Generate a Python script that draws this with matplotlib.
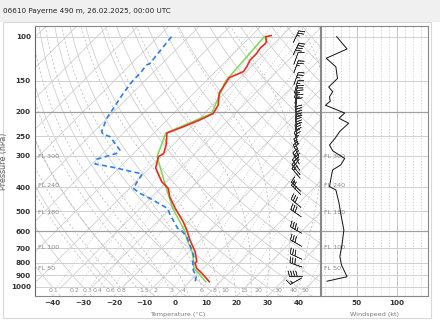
import matplotlib
matplotlib.use("Agg")
import matplotlib.pyplot as plt
import matplotlib.transforms as mtransforms
from matplotlib.patches import Rectangle
import numpy as np

title = "06610 Payerne 490 m, 26.02.2025, 00:00 UTC"

# temperature sounding (hPa, degC)
temp_p = [99, 100, 105, 107, 111, 117, 124, 132, 138, 146, 151, 168, 188, 203,
          215, 229, 243, 271, 293, 302, 335, 380, 404, 437, 484, 550, 593, 650,
          724, 794, 802, 844, 883, 955]
temp_t = [-53.6, -55.0, -53.1, -52.9, -53.1, -52.5, -52.5, -51.4, -50.9, -53.6,
          -53.1, -51.8, -48.2, -47.1, -49.3, -52.5, -55.8, -52.2, -50.2, -50.9,
          -48.1, -41.7, -37.4, -34.1, -28.8, -21.6, -17.8, -13.5, -8.0, -4.2,
          -4.4, -2.1, 1.2, 6.4]

# second (green) trace, slightly cooler near the ground
green_p = [100, 151, 203, 243, 302, 404, 484, 593, 650, 724, 794, 844, 883, 955]
green_t = [-55.5, -53.6, -47.6, -56.2, -51.3, -38.0, -29.6, -18.6, -14.4, -9.0,
           -5.2, -3.0, 0.2, 5.2]

# dew point sounding (hPa, degC)
dew_p = [100, 128, 130, 140, 149, 168, 193, 212, 240, 246, 251, 279, 284, 293,
         309, 323, 331, 354, 404, 423, 443, 486, 516, 584, 597, 631, 713, 770,
         794, 858, 912, 955]
dew_t = [-85.7, -84.0, -84.6, -84.0, -84.0, -83.0, -81.3, -80.2, -77.5, -76.1,
         -73.2, -66.7, -65.6, -65.6, -70.1, -69.1, -63.4, -50.5, -48.8, -45.0,
         -40.1, -31.1, -28.1, -21.3, -19.2, -15.6, -9.6, -6.1, -5.5, -2.6, 0.5, 1.8]

# wind profile (hPa, kt, deg)
wind_p = [100, 112, 122, 132, 147, 159, 166, 174, 181, 188, 202, 212, 222, 239,
          255, 271, 286, 307, 326, 341, 352, 398, 410, 464, 508, 593, 669, 757,
          818, 912, 950]
wind_kt = [25, 38, 12, 24, 26, 15, 20, 16, 17, 11, 35, 28, 40, 29, 23, 16, 20,
           35, 30, 20, 19, 16, 24, 28, 30, 34, 32, 29, 31, 38, 13]
wind_dir = [25, 25, 20, 20, 20, 15, 15, 10, 10, 5, 0, 0, 355, 350, 345, 340,
            335, 330, 325, 320, 320, 315, 315, 310, 305, 300, 300, 295, 290, 270, 240]

p_ticks = [100, 150, 200, 250, 300, 400, 500, 600, 700, 800, 900, 1000]
t_ticks = [-40, -30, -20, -10, 0, 10, 20, 30, 40]
mix_ratios = [0.1, 0.2, 0.3, 0.4, 0.6, 0.8, 1.5, 2, 3, 4, 6, 8, 10, 15, 20, 30, 40, 50]
fl_names = ["FL 300", "FL 240", "FL 180", "FL 100", "FL 50"]
fl_p = [300.9, 392.7, 505.9, 696.8, 843.1]
ws_ticks = [50, 100]

W, H = 440, 322
fig = plt.figure(figsize=(W / 100, H / 100), dpi=100)
fig.patches.append(Rectangle((0, 1 - 22 / H), 1, 22 / H, transform=fig.transFigure,
                             facecolor="#f0f0f0", edgecolor="none", zorder=-5))
fig.patches.append(Rectangle((3 / W, 4 / H), 428 / W, 296 / H, transform=fig.transFigure,
                             facecolor="white", edgecolor="#d8d8d8", lw=0.8, zorder=-5))
fig.text(3 / W, 1 - 11 / H, title, fontsize=5.2, va="center", ha="left", color="#222222")

ax_l, ax_b, ax_w, ax_h = 35, 26, 285, 270.3
ax = fig.add_axes([ax_l / W, ax_b / H, ax_w / W, ax_h / H])
ax.set_yscale("log")
ax.set_ylim(1089, 90.4)
ax.set_xlim(-45.7, 47.1)
ax.autoscale(False)

skew = mtransforms.Affine2D().skew(np.arctan(ax_h / ax_w), 0)
trans = ax.transScale + ax.transLimits + skew + ax.transAxes

grid_c = "#c8c8c8"
pp = np.logspace(np.log10(1100), np.log10(90), 120)

# isotherms
for t0 in range(-150, 60, 10):
    ax.plot([t0, t0], [1100, 90], transform=trans, color=grid_c, lw=0.5, zorder=1)

# dry adiabats
for th in range(230, 470, 10):
    ax.plot(th * (pp / 1000.0) ** 0.286 - 273.15, pp, transform=trans,
            color=grid_c, lw=0.5, zorder=1)

# moist adiabats
def moist_adiabat(t_start):
    Rd, cp, L, eps = 287.04, 1005.7, 2.501e6, 0.622
    def dtdp(t, p):
        es = 6.112 * np.exp(17.67 * (t - 273.15) / (t - 29.65))
        rs = eps * es / (p - es)
        return (Rd * t + L * rs) / (cp + L * L * rs * eps / (Rd * t * t)) / p
    ps = np.linspace(1100, 90, 400)
    ts = [t_start + 273.15]
    for i in range(1, len(ps)):
        dp = ps[i] - ps[i - 1]
        t = ts[-1]
        k1 = dtdp(t, ps[i - 1])
        k2 = dtdp(t + k1 * dp, ps[i])
        ts.append(t + 0.5 * (k1 + k2) * dp)
    return np.array(ts) - 273.15, ps

for t0 in range(-20, 45, 5):
    mt, mp = moist_adiabat(t0)
    ax.plot(mt, mp, transform=trans, color="#b8b8b8", lw=0.5, ls=(0, (3, 3)), zorder=1)

# mixing ratio lines
for w in mix_ratios:
    e = w * pp / (622.0 + w)
    lg = np.log(e / 6.112)
    td = 243.5 * lg / (17.67 - lg)
    ax.plot(td, pp, transform=trans, color="#c0c0c0", lw=0.5, ls=(0, (1.5, 2.5)), zorder=1)
    e0 = w * 1040 / (622.0 + w)
    lg0 = np.log(e0 / 6.112)
    ax.text(243.5 * lg0 / (17.67 - lg0), 1040, f"{w:g}", transform=trans, fontsize=4.5,
            color="#909090", ha="center", va="center", zorder=2,
            clip_on=True, bbox=dict(facecolor="white", edgecolor="none", pad=0.2))

# pressure lines
for p in p_ticks:
    dark = p in (200, 600)
    ax.axhline(p, color="#a0a0a0" if dark else "#d0d0d0", lw=0.9 if dark else 0.7, zorder=1)

for name, p in zip(fl_names, fl_p):
    ax.text(0.012, p, name, transform=ax.get_yaxis_transform(), fontsize=4.6,
            color="#8a8a8a", va="center", ha="left", zorder=3)

# soundings
ax.plot(green_t, green_p, transform=trans, color="#7ed957", lw=1.1, zorder=4)
ax.plot(temp_t, temp_p, transform=trans, color="#ee2a1b", lw=1.2, zorder=5)
ax.plot(dew_t, dew_p, transform=trans, color="#2d7df0", lw=1.2, ls=(0, (3, 2)), zorder=5)

# wind barbs
wd = np.deg2rad(wind_dir)
u = -np.array(wind_kt) * np.sin(wd)
v = -np.array(wind_kt) * np.cos(wd)
ax.barbs(np.full(len(wind_p), 0.916), wind_p, u, v, transform=ax.get_yaxis_transform(),
         length=4.3, linewidth=0.45, color="#333333", zorder=6, pivot="middle",
         sizes=dict(emptybarb=0.0, spacing=0.2, height=0.45))

ax.set_xticks(t_ticks)
ax.set_yticks(p_ticks)
ax.set_yticklabels([str(p) for p in p_ticks])
ax.yaxis.set_minor_locator(matplotlib.ticker.NullLocator())
ax.tick_params(labelsize=5.2, length=0, pad=3, colors="#333333")
for lab in ax.get_xticklabels() + ax.get_yticklabels():
    lab.set_fontweight("bold")
ax.set_xlabel("Temperature (°C)", fontsize=4.6, color="#777777", labelpad=4)
ax.set_ylabel("Pressure (hPa)", fontsize=5.8, color="#666666")
ax.yaxis.set_label_coords(-0.095, 0.5)
for s in ["top", "left", "right"]:
    ax.spines[s].set_color("#888888")
    ax.spines[s].set_linewidth(0.8)
ax.spines["bottom"].set_color("#888888")
ax.spines["left"].set_color("#666666")

# wind speed panel
ax2 = fig.add_axes([320.7 / W, ax_b / H, 107 / W, ax_h / H])
ax2.set_yscale("log")
ax2.set_ylim(1089, 90.4)
ax2.set_xlim(5, 139)
for k in range(10, 140, 10):
    if k not in ws_ticks:
        ax2.axvline(k, color="#cccccc", lw=0.6, ls=(0, (1.5, 2)), zorder=1)
for k in ws_ticks:
    ax2.axvline(k, color="#c4c4c4", lw=0.7, zorder=1)
for p in p_ticks:
    dark = p in (200, 600)
    ax2.axhline(p, color="#a0a0a0" if dark else "#d0d0d0", lw=0.9 if dark else 0.7, zorder=1)
for name, p in zip(fl_names, fl_p):
    ax2.text(0.03, p, name, transform=ax2.get_yaxis_transform(), fontsize=4.6,
             color="#8a8a8a", va="center", ha="left", zorder=3)
ax2.plot(wind_kt, wind_p, color="#111111", lw=0.7, zorder=4)
ax2.set_xticks(ws_ticks)
ax2.set_yticks([])
ax2.yaxis.set_minor_locator(matplotlib.ticker.NullLocator())
ax2.tick_params(labelsize=5.2, length=0, pad=3, colors="#333333")
for lab in ax2.get_xticklabels():
    lab.set_fontweight("bold")
ax2.set_xlabel("Windspeed (kt)", fontsize=4.6, color="#777777", labelpad=4)
for s in ax2.spines.values():
    s.set_color("#888888")
    s.set_linewidth(0.8)

fig.savefig("out.png", dpi=100)
